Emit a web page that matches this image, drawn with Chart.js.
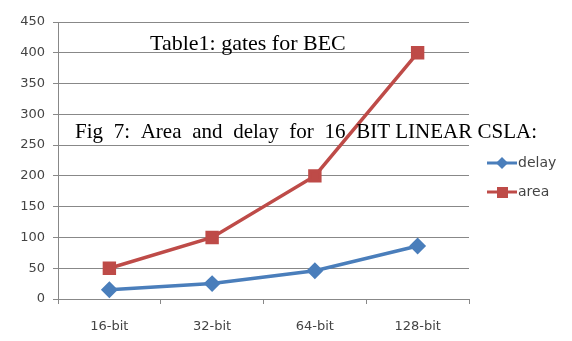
<!DOCTYPE html>
<html><head><meta charset="utf-8">
<script src="https://cdn.jsdelivr.net/npm/chart.js@4/dist/chart.umd.min.js"></script>
<style>html,body{margin:0;padding:0;background:#fff}#wrap{width:572px;height:341px}</style>
</head><body><div id="wrap"><canvas id="c" width="572" height="341"></canvas></div>
<script>
const categories = ['16-bit', '32-bit', '64-bit', '128-bit'];
const delayValues = [15, 25, 46, 86];
const areaValues = [50, 100, 200, 400];
const yTicks = [0, 50, 100, 150, 200, 250, 300, 350, 400, 450];
const overlayTitle = 'Table1: gates for BEC';
const captionSpread = ['Fig', '7:', 'Area', 'and', 'delay', 'for', '16'];
const captionTail = 'BIT LINEAR CSLA:';

const overlayPlugin = {
  id: 'overlay',
  afterDraw(chart) {
    const ctx = chart.ctx;
    ctx.save();
    // legend
    const ds = chart.data.datasets;
    const ly = [163, 192];
    ds.forEach((d, i) => {
      const y = ly[i];
      ctx.strokeStyle = d.borderColor; ctx.lineWidth = 3;
      ctx.beginPath(); ctx.moveTo(487, y); ctx.lineTo(517, y); ctx.stroke();
      ctx.fillStyle = d.backgroundColor;
      if (i === 0) {
        ctx.beginPath(); ctx.moveTo(502, y - 6); ctx.lineTo(508, y); ctx.lineTo(502, y + 6); ctx.lineTo(496, y); ctx.closePath(); ctx.fill();
      } else {
        ctx.fillRect(497, y - 5, 11, 11);
      }
      ctx.fillStyle = '#444'; ctx.font = '14px "DejaVu Sans", sans-serif';
      ctx.textBaseline = 'middle'; ctx.textAlign = 'left';
      ctx.fillText(d.label, 518, y);
    });
    // overlay texts
    ctx.fillStyle = '#000';
    ctx.textBaseline = 'alphabetic';
    ctx.font = '22px "Liberation Serif", serif';
    ctx.fillText(overlayTitle, 150, 50);
    ctx.font = '21px "Liberation Serif", serif';
    const endX = 537, startX = 75;
    const tailW = ctx.measureText(captionTail).width;
    const tailX = endX - tailW;
    ctx.fillText(captionTail, tailX, 138);
    const wsum = captionSpread.reduce((s, w) => s + ctx.measureText(w).width, 0);
    const gap = (tailX - startX - wsum) / captionSpread.length;
    let x = startX;
    captionSpread.forEach(w => { ctx.fillText(w, x, 138); x += ctx.measureText(w).width + gap; });
    ctx.restore();
  }
};

new Chart(document.getElementById('c'), {
  type: 'line',
  data: {
    labels: categories,
    datasets: [
      { label: 'delay', data: delayValues, borderColor: '#4a7ebb', backgroundColor: '#4a7ebb', borderWidth: 3.5, pointStyle: 'rectRot', pointRadius: 6, pointHoverRadius: 6, tension: 0 },
      { label: 'area', data: areaValues, borderColor: '#be4b48', backgroundColor: '#be4b48', borderWidth: 3.5, pointStyle: 'rect', pointRadius: 7, pointHoverRadius: 7, tension: 0 }
    ]
  },
  options: {
    responsive: false, animation: false, devicePixelRatio: 1,
    layout: { padding: { left: 0, right: 103, top: 22, bottom: 0 } },
    plugins: { legend: { display: false }, tooltip: { enabled: false } },
    scales: {
      x: {
        offset: true,
        grid: { display: true, drawOnChartArea: false, drawTicks: true, tickLength: 5, color: '#888', offset: true },
        border: { color: '#888' },
        ticks: { color: '#444', font: { family: '"DejaVu Sans", sans-serif', size: 13 }, padding: 15 },
        afterFit(s) { s.height = 42; }
      },
      y: {
        min: 0, max: 450,
        afterBuildTicks(s) { s.ticks = yTicks.map(v => ({ value: v })); },
        grid: { color: '#888', tickLength: 5 },
        border: { color: '#888' },
        ticks: { color: '#444', font: { family: '"DejaVu Sans", sans-serif', size: 13 }, padding: 8 },
        afterFit(s) { s.width = 58; }
      }
    }
  },
  plugins: [overlayPlugin]
});
</script></body></html>
